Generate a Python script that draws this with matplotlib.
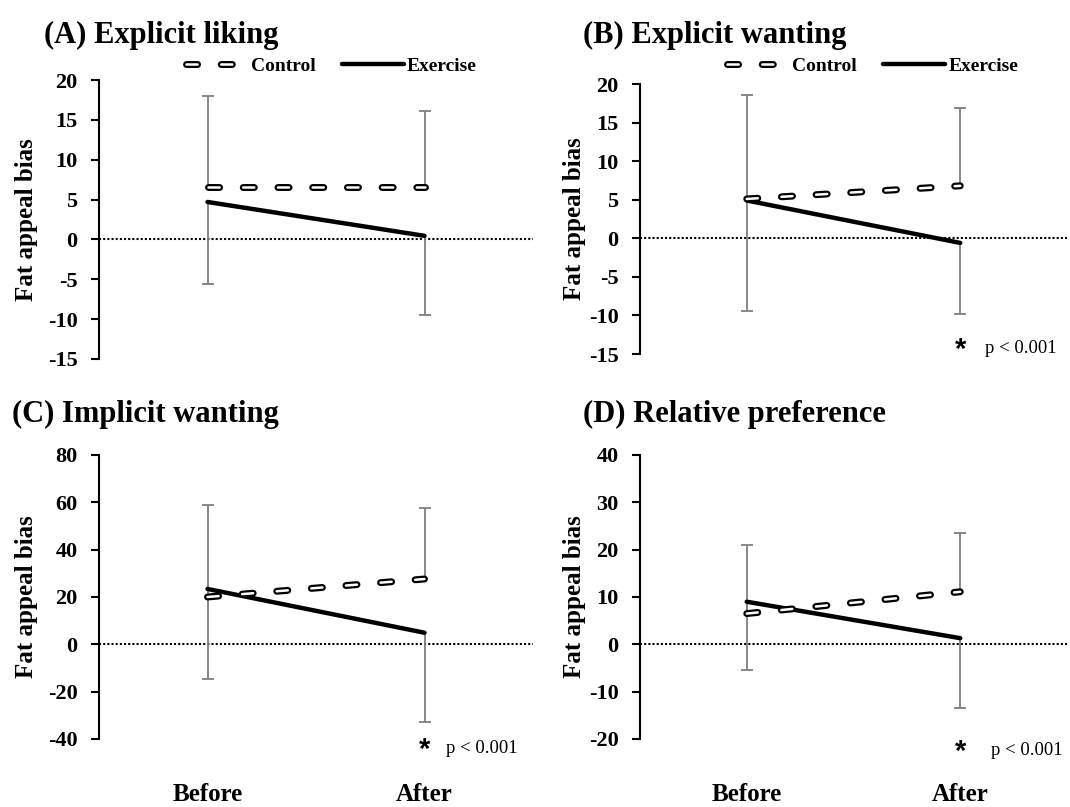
import matplotlib
matplotlib.use("Agg")
from matplotlib import pyplot as plt
import matplotlib.patheffects as pe
import numpy as np

plt.rcParams['font.family'] = ['Liberation Serif', 'DejaVu Serif']
plt.rcParams['lines.scale_dashes'] = False
plt.rcParams['axes.unicode_minus'] = False

# datos (antes, despues)
fases = ["Before", "After"]

titulos = ["(A) Explicit liking", "(B) Explicit wanting",
           "(C) Implicit wanting", "(D) Relative preference"]

control = [[6.6, 6.6], [5.1, 6.8], [20.0, 27.6], [6.5, 11.1]]
ejercicio = [[4.7, 0.45], [4.9, -0.6], [23.4, 4.9], [9.0, 1.3]]
# extremo superior de la barra de error de control
control_sup = [[18.0, 16.1], [18.6, 16.9], [58.8, 57.6], [20.9, 23.5]]
# extremo inferior de la barra de error de ejercicio
ejercicio_inf = [[-5.6, -9.5], [-9.4, -9.8], [-14.7, -32.7], [-5.4, -13.5]]

limites_y = [(-15, 20), (-15, 20), (-40, 80), (-20, 40)]
paso_y = [5, 5, 20, 10]
con_p = [False, True, True, True]

# posiciones de los paneles en pixeles (izq, arriba, der, abajo)
cajas = [(99, 80, 533, 359), (640, 84, 1067, 354),
         (99, 455, 533, 739), (640, 455, 1067, 739)]
pos_titulo = [(44, 43), (583, 43), (12, 422), (583, 422)]
pos_leyenda = [(0.535, 1.05), (0.545, 1.067)]
label_x = [-0.14, -0.127, -0.14, -0.127]
# posicion del texto "* p < 0.001" (desplazamiento en x, y en fraccion del eje)
p_dx = [0, 0.117, 0.10, 0.145]
p_y = [0, 0.02, -0.032, -0.039]

W, H = 1070, 807
fig = plt.figure(figsize=(W / 100, H / 100), dpi=100)

x = np.arange(len(fases))
gris = "#7f7f7f"

for k in range(4):
    l, t, r, b = cajas[k]
    ax = fig.add_axes([l / W, 1 - b / H, (r - l) / W, (b - t) / H])

    ax.axhline(0, color="black", lw=1.5, linestyle=(0, (1.5, 1.5)), zorder=1)

    # barras de error
    ax.vlines(x, control[k], control_sup[k], color=gris, lw=1.3, zorder=2)
    ax.plot(x, control_sup[k], linestyle="none", marker="_", ms=8,
            mew=1.3, color=gris, zorder=2)
    ax.vlines(x, ejercicio_inf[k], ejercicio[k], color=gris, lw=1.3, zorder=2)
    ax.plot(x, ejercicio_inf[k], linestyle="none", marker="_", ms=8,
            mew=1.3, color=gris, zorder=2)

    ax.plot(x, control[k], color="white", lw=1.8, dashes=(8.0, 17.0),
            dash_capstyle="round", solid_capstyle="round",
            path_effects=[pe.Stroke(linewidth=5.0, foreground="black"),
                          pe.Normal()],
            label="Control", zorder=4)
    ax.plot(x, ejercicio[k], color="black", lw=3.2,
            solid_capstyle="round", label="Exercise", zorder=3)

    ax.set_xlim(-0.5, 1.5)
    ax.set_ylim(*limites_y[k])
    ax.set_yticks(np.arange(limites_y[k][0], limites_y[k][1] + 1, paso_y[k]))
    for s in ["top", "right", "bottom"]:
        ax.spines[s].set_visible(False)
    ax.spines["left"].set_linewidth(1.5)
    ax.tick_params(axis="y", direction="out", length=5.5, width=1.5,
                   pad=10, labelsize=16)
    for lab in ax.get_yticklabels():
        lab.set_fontweight("bold")

    if k >= 2:
        ax.set_xticks(x, fases)
        ax.tick_params(axis="x", length=0, pad=32, labelsize=18)
        for lab in ax.get_xticklabels():
            lab.set_fontweight("bold")
    else:
        ax.set_xticks([])

    ax.set_ylabel("Fat appeal bias", fontsize=18, fontweight="bold")
    ax.yaxis.set_label_coords(label_x[k], 0.5)

    tx, ty = pos_titulo[k]
    fig.text(tx / W, 1 - ty / H, titulos[k], fontsize=22, fontweight="bold",
             ha="left", va="baseline")

    if k < 2:
        ax.legend(loc="center", bbox_to_anchor=pos_leyenda[k], ncol=2,
                  frameon=False, handlelength=3.2, handletextpad=0.15,
                  columnspacing=1.35, prop={"weight": "bold", "size": 14})

    if con_p[k]:
        ax.text(1.0, p_y[k] - 0.005, "*", transform=ax.get_xaxis_transform(),
                family="Liberation Sans", fontweight="bold", fontsize=21,
                ha="center", va="center")
        ax.text(1.0 + p_dx[k], p_y[k], "p < 0.001",
                transform=ax.get_xaxis_transform(),
                fontsize=13.5, ha="left", va="center")

fig.savefig("out.png", dpi=100)
